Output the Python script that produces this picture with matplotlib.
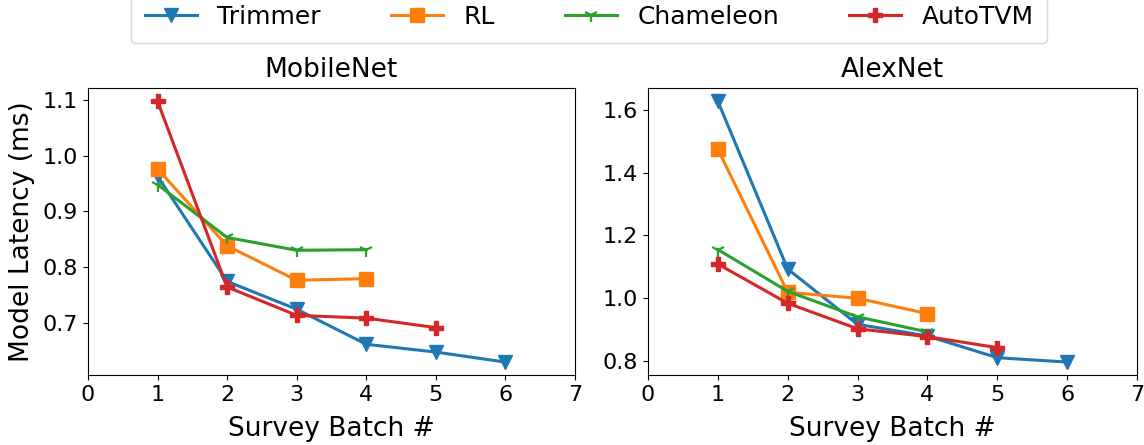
import matplotlib
matplotlib.use("Agg")
import matplotlib.pyplot as plt

batches = [1, 2, 3, 4, 5, 6]

# MobileNet latency per survey batch (ms)
mobilenet_trimmer = [0.963, 0.774, 0.724, 0.661, 0.647, 0.629]
mobilenet_rl = [0.976, 0.838, 0.776, 0.779]
mobilenet_chameleon = [0.948, 0.853, 0.830, 0.831]
mobilenet_autotvm = [1.098, 0.764, 0.713, 0.708, 0.691]

# AlexNet latency per survey batch (ms)
alexnet_trimmer = [1.627, 1.093, 0.917, 0.880, 0.811, 0.797]
alexnet_rl = [1.474, 1.019, 1.000, 0.951]
alexnet_chameleon = [1.155, 1.022, 0.941, 0.893]
alexnet_autotvm = [1.109, 0.984, 0.903, 0.878, 0.843]

labels = ["Trimmer", "RL", "Chameleon", "AutoTVM"]
colors = ["#1f77b4", "#ff7f0e", "#2ca02c", "#d62728"]
markers = ["v", "s", "1", "P"]

panels = [
    ("MobileNet", [mobilenet_trimmer, mobilenet_rl, mobilenet_chameleon, mobilenet_autotvm]),
    ("AlexNet", [alexnet_trimmer, alexnet_rl, alexnet_chameleon, alexnet_autotvm]),
]

TICK_FS = 16
LABEL_FS = 19

fig = plt.figure(figsize=(11.44, 4.45), dpi=100)
ax_left = fig.add_axes([0.0769, 0.157, 0.4257, 0.645])
ax_right = fig.add_axes([0.5664, 0.157, 0.4275, 0.645])

for ax, (title, series) in zip([ax_left, ax_right], panels):
    for vals, lab, col, mk in zip(series, labels, colors, markers):
        ax.plot(batches[:len(vals)], vals, color=col, marker=mk, label=lab,
                linewidth=2.2, markersize=10,
                markeredgewidth=1.6 if mk == "1" else 1.0)
    ax.set_xlim(0, 7)
    ax.set_xticks(range(0, 8))
    ax.tick_params(labelsize=TICK_FS)
    ax.set_title(title, fontsize=LABEL_FS, pad=8)
    ax.set_xlabel("Survey Batch #", fontsize=LABEL_FS, labelpad=8)

ax_left.set_ylabel("Model Latency (ms)", fontsize=LABEL_FS, labelpad=6)

handles, leg_labels = ax_left.get_legend_handles_labels()
fig.legend(handles, leg_labels, loc="lower center", ncol=4,
           bbox_to_anchor=(0.515, 0.904), borderaxespad=0.0,
           handlelength=2.1, columnspacing=2.8, handletextpad=0.8,
           borderpad=0.55, fontsize=18)

fig.savefig("out.png", dpi=100)
